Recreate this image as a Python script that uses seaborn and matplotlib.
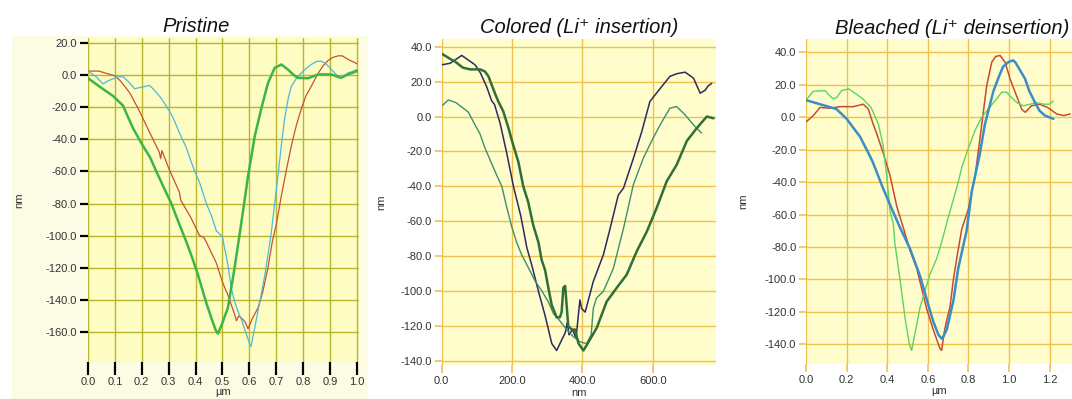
import matplotlib
matplotlib.use("Agg")
import matplotlib.pyplot as plt
from matplotlib.patches import Rectangle
import seaborn as sns

sns.set_style("white")
plt.rcParams["font.family"] = ["Liberation Sans", "DejaVu Sans"]

# ---------------- Pristine profiles (x in µm, depth in nm) ----------------
pristine_red_x = [0.00, 0.04, 0.08, 0.10, 0.12, 0.155, 0.19, 0.23, 0.265, 0.27, 0.275, 0.30,
                  0.34, 0.345, 0.38, 0.415, 0.43, 0.44, 0.477, 0.50, 0.52, 0.545, 0.552, 0.56,
                  0.575, 0.585, 0.595, 0.61, 0.632, 0.65, 0.669, 0.685, 0.70, 0.719, 0.74,
                  0.756, 0.775, 0.793, 0.81, 0.83, 0.855, 0.875, 0.892, 0.91, 0.93, 0.945,
                  0.96, 0.975, 0.99, 1.00]
pristine_red_y = [2.5, 2.5, 0.5, -0.5, -3.5, -11, -22, -36, -48, -52, -47, -58,
                  -73, -78, -88, -100, -101, -104, -117, -129, -137, -149, -153, -150,
                  -152, -154, -158, -152, -145, -135, -120, -104, -93, -75, -57,
                  -44, -31, -21, -13, -7, 1, 6, 9, 11, 12, 12,
                  10.5, 9, 8, 7]

pristine_cyan_x = [0.00, 0.03, 0.056, 0.075, 0.093, 0.115, 0.13, 0.15, 0.173, 0.20, 0.229,
                   0.25, 0.27, 0.29, 0.315, 0.34, 0.365, 0.39, 0.415, 0.44, 0.46, 0.477,
                   0.49, 0.50, 0.508, 0.52, 0.533, 0.545, 0.557, 0.57, 0.582, 0.60, 0.606,
                   0.612, 0.632, 0.657, 0.68, 0.706, 0.72, 0.731, 0.745, 0.756, 0.775,
                   0.793, 0.81, 0.83, 0.85, 0.867, 0.885, 0.905, 0.925, 0.94, 0.955,
                   0.967, 0.98, 1.00]
pristine_cyan_y = [2.5, -1, -5.5, -3.5, -2.3, -1, -1, -4, -8.5, -7.5, -6.4,
                   -10, -14, -19, -26, -36, -45, -57, -67, -80, -88, -97,
                   -99, -101, -108, -118, -133, -141, -147, -152, -158, -167, -169,
                   -164, -147, -125, -100, -63, -42, -27, -14, -7, -2,
                   1.4, 4, 6.6, 8.5, 8.7, 7, 3.5, 0, -1.7, 0,
                   1.4, 2, 3.5]

pristine_green_x = [0.00, 0.006, 0.05, 0.093, 0.13, 0.167, 0.204, 0.23, 0.254, 0.29, 0.31,
                    0.328, 0.366, 0.39, 0.41, 0.44, 0.46, 0.475, 0.483, 0.496, 0.52, 0.545,
                    0.57, 0.595, 0.62, 0.644, 0.669, 0.694, 0.719, 0.743, 0.765, 0.78,
                    0.818, 0.855, 0.905, 0.94, 0.967, 1.00]
pristine_green_y = [-2, -2.7, -8, -13, -19, -33, -44, -51, -60, -73, -80,
                    -88, -104, -115, -125, -142, -152, -159, -161, -156, -145, -120,
                    -92, -63, -38, -21, -5, 4.5, 6.6, 3.5, 0, -1.7,
                    -2, 0.4, 0.4, -1.7, 0.4, 2.5]

# ---------------- Colored profiles (x in nm, depth in nm) ----------------
colored_navy_x = [0, 24, 57, 71, 95, 110, 128, 142, 150, 166, 185, 204, 225, 242, 256,
                  275, 294, 313, 327, 341, 351, 357, 362, 372, 382, 393, 398, 408, 431,
                  460, 479, 502, 517, 545, 569, 592, 621, 649, 668, 692, 716, 735, 749,
                  758, 768]
colored_navy_y = [29.6, 30.5, 35, 33, 29.6, 25, 17, 9, 7, -3.8, -21, -40, -57, -75, -85,
                  -100, -114, -130, -134, -128, -124, -118, -125, -122, -127, -105, -110, -112, -94.5,
                  -79, -64, -45, -41, -24, -8.6, 8.6, 16, 23, 24.5, 25.4, 22, 13.4, 15,
                  17.6, 19]

colored_teal_x = [0, 19, 40, 60, 76, 90, 109, 123, 140, 155, 171, 185, 199, 213, 227,
                  245, 265, 285, 303, 318, 332, 355, 374, 393, 412, 425, 431, 440, 460,
                  488, 517, 545, 573, 597, 621, 649, 668, 692, 716, 739]
colored_teal_y = [6, 9.5, 8, 5, 2.5, -3, -10, -18, -26, -33, -40, -52, -63, -72, -79,
                  -86, -94, -100, -106, -113, -116, -122, -126, -129, -130, -125, -110, -104, -100,
                  -87, -64, -39, -24, -14, -4.8, 4.8, 5.7, 1, -4.8, -9.5]

colored_dkgreen_x = [0, 24, 38, 60, 81, 109, 123, 133, 150, 161, 175, 190, 200, 218, 232,
                     246, 260, 275, 284, 294, 305, 313, 327, 336, 341, 346, 351, 356, 360,
                     370, 379, 389, 403, 412, 441, 469, 498, 526, 555, 583, 611, 640, 668,
                     697, 725, 754, 773]
colored_dkgreen_y = [36, 33, 31.5, 28, 27, 27, 25.8, 23, 14, 8.6, 3, -6.7, -14, -26, -40,
                     -49, -62, -72, -82, -88, -100, -108, -115, -115, -112, -98, -97, -110, -120,
                     -122, -122, -130, -134, -131, -121, -106, -98, -90.6, -77, -66, -52.5, -37, -27.7,
                     -14, -6.7, 0, -1]

# ---------------- Bleached profiles (x in µm, depth in nm) ----------------
bleached_red_x = [0.0, 0.036, 0.069, 0.118, 0.167, 0.233, 0.282, 0.307, 0.33, 0.348, 0.38,
                  0.414, 0.447, 0.479, 0.512, 0.545, 0.594, 0.627, 0.66, 0.668, 0.68, 0.693,
                  0.709, 0.718, 0.726, 0.745, 0.767, 0.80, 0.833, 0.865, 0.89, 0.915, 0.935,
                  0.956, 0.98, 1.005, 1.03, 1.062, 1.08, 1.11, 1.15, 1.19, 1.235, 1.27, 1.30]
bleached_red_y = [-3, 1, 6, 5.5, 6.5, 6.5, 8, 5, -4, -10, -22,
                  -36, -55, -68, -82, -93, -118, -131, -142.7, -143.7, -133, -125,
                  -117, -108, -100, -85, -69, -56.5, -36, -5, 19.5, 34, 37.5,
                  38, 34, 23.6, 15.4, 5, 3, 7, 8, 6, 2, 1, 2]

bleached_blue_x = [0.0, 0.069, 0.15, 0.2, 0.266, 0.315, 0.33, 0.38, 0.414, 0.463, 0.512,
                   0.562, 0.603, 0.627, 0.652, 0.668, 0.677, 0.693, 0.726, 0.75, 0.791,
                   0.816, 0.857, 0.88, 0.89, 0.923, 0.947, 0.97, 0.997, 1.02, 1.03, 1.054,
                   1.079, 1.10, 1.128, 1.15, 1.177, 1.218]
bleached_blue_y = [10.5, 8, 5, -1, -12, -24, -28, -44, -54, -68, -81,
                   -98, -116, -126, -134, -136.5, -135, -131, -113, -93, -70,
                   -46, -22, -5, 0, 16, 24, 31, 34, 35, 34, 29,
                   23.6, 16, 9, 4, 1, -1]

bleached_green_x = [0.0, 0.036, 0.094, 0.118, 0.135, 0.15, 0.176, 0.21, 0.25, 0.28, 0.32,
                    0.356, 0.38, 0.397, 0.414, 0.43, 0.438, 0.463, 0.488, 0.509, 0.52, 0.537,
                    0.562, 0.586, 0.61, 0.644, 0.668, 0.70, 0.734, 0.75, 0.767, 0.80, 0.833,
                    0.865, 0.898, 0.93, 0.964, 0.988, 1.013, 1.038, 1.07, 1.103, 1.136, 1.17,
                    1.20, 1.218]
bleached_green_y = [10.5, 16, 16.4, 13, 11.3, 12, 16.4, 17.5, 14, 11.3, 6,
                    -4, -17.5, -36, -58, -66, -78, -100, -124, -140, -143.7, -133,
                    -117, -107, -97, -87, -77, -62, -47, -40, -31, -19, -8,
                    0, 5, 10, 15.4, 15.4, 12, 9, 7, 8, 9, 8,
                    8, 10]

pristine_xticks = [0.0, 0.1, 0.2, 0.3, 0.4, 0.5, 0.6, 0.7, 0.8, 0.9, 1.0]
pristine_yticks = [20, 0, -20, -40, -60, -80, -100, -120, -140, -160]
colored_xticks = [0, 200, 400, 600]
colored_yticks = [40, 20, 0, -20, -40, -60, -80, -100, -120, -140]
bleached_xticks = [0.0, 0.2, 0.4, 0.6, 0.8, 1.0, 1.2]
bleached_yticks = [40, 20, 0, -20, -40, -60, -80, -100, -120, -140]

W, H = 1072, 399
fig = plt.figure(figsize=(W / 100, H / 100), dpi=100)

# pale cream panel behind the first chart
fig.patches.append(Rectangle((12 / W, 0), (368 - 12) / W, (H - 36) / H,
                             transform=fig.transFigure, facecolor="#fcfbe4",
                             edgecolor="none", zorder=-10))


def px_axes(left, top, right, bottom):
    return fig.add_axes([left / W, 1 - bottom / H, (right - left) / W, (bottom - top) / H])


def style(ax, face, grid_color, tick_color, xlen, ylen, twidth):
    ax.set_facecolor(face)
    for s in ax.spines.values():
        s.set_visible(False)
    ax.grid(True, color=grid_color, linewidth=1.0)
    ax.set_axisbelow(True)
    ax.tick_params(axis="x", direction="out", length=xlen, width=twidth, color=tick_color,
                   labelsize=8, labelcolor="#333333", pad=2, bottom=True)
    ax.tick_params(axis="y", direction="out", length=ylen, width=twidth, color=tick_color,
                   labelsize=8, labelcolor="#333333", pad=2, left=True)


title_kw = dict(fontsize=14.5, style="italic", color="#111111")
label_kw = dict(fontsize=8, color="#333333")

# ---------------- Pristine ----------------
ax1 = px_axes(88, 38, 359, 362)
style(ax1, "#fdfcc2", "#b9b52c", "black", 9, 6, 1.6)
sns.lineplot(x=pristine_red_x, y=pristine_red_y, ax=ax1, color="#c65038", linewidth=0.9, estimator=None)
sns.lineplot(x=pristine_cyan_x, y=pristine_cyan_y, ax=ax1, color="#4db8dc", linewidth=0.9, estimator=None)
sns.lineplot(x=pristine_green_x, y=pristine_green_y, ax=ax1, color="#3cb545", linewidth=1.8, estimator=None)
ax1.set_xlim(0, 1.0075)
ax1.set_ylim(-178.7, 23.1)
ax1.set_xticks(pristine_xticks)
ax1.set_xticklabels([f"{v:.1f}" for v in pristine_xticks])
ax1.set_yticks(pristine_yticks)
ax1.set_yticklabels([f"{v:.1f}" for v in pristine_yticks])
ax1.set_title("Pristine", x=0.40, pad=4, **title_kw)
ax1.set_xlabel("µm", labelpad=0, **label_kw)
ax1.set_ylabel("nm", labelpad=15, **label_kw)

# ---------------- Colored ----------------
ax2 = px_axes(441.7, 39, 716, 365)
style(ax2, "#fffdcc", "#efc150", "#efc150", 6, 5, 1.2)
sns.lineplot(x=colored_navy_x, y=colored_navy_y, ax=ax2, color="#2b2a62", linewidth=1.1, estimator=None)
sns.lineplot(x=colored_teal_x, y=colored_teal_y, ax=ax2, color="#3c8f6e", linewidth=1.0, estimator=None)
sns.lineplot(x=colored_dkgreen_x, y=colored_dkgreen_y, ax=ax2, color="#2f6f38", linewidth=1.8, estimator=None)
ax2.set_xlim(0, 780)
ax2.set_ylim(-142.3, 44.4)
ax2.set_xticks(colored_xticks)
ax2.set_xticklabels([f"{v:.1f}" for v in colored_xticks])
ax2.set_yticks(colored_yticks)
ax2.set_yticklabels([f"{v:.1f}" for v in colored_yticks])
ax2.set_title("Colored (Li⁺ insertion)", pad=4, **title_kw)
ax2.set_xlabel("nm", labelpad=1, **label_kw)
ax2.set_ylabel("nm", labelpad=10, **label_kw)

# ---------------- Bleached ----------------
ax3 = px_axes(806, 39.3, 1072, 364)
style(ax3, "#fffdcc", "#efc150", "#efc150", 6, 5, 1.2)
sns.lineplot(x=bleached_red_x, y=bleached_red_y, ax=ax3, color="#c84a30", linewidth=1.1, estimator=None)
sns.lineplot(x=bleached_green_x, y=bleached_green_y, ax=ax3, color="#5ad65a", linewidth=1.0, estimator=None)
sns.lineplot(x=bleached_blue_x, y=bleached_blue_y, ax=ax3, color="#3a8ec8", linewidth=1.8, estimator=None)
ax3.set_xlim(0, 1.31)
ax3.set_ylim(-152.1, 48.0)
ax3.set_xticks(bleached_xticks)
ax3.set_xticklabels([f"{v:.1f}" for v in bleached_xticks])
ax3.set_yticks(bleached_yticks)
ax3.set_yticklabels([f"{v:.1f}" for v in bleached_yticks])
ax3.set_title("Bleached (Li⁺ deinsertion)", x=0.55, pad=4, **title_kw)
ax3.set_xlabel("µm", labelpad=1, **label_kw)
ax3.set_ylabel("nm", labelpad=12, **label_kw)

fig.savefig("out.png", dpi=100)
